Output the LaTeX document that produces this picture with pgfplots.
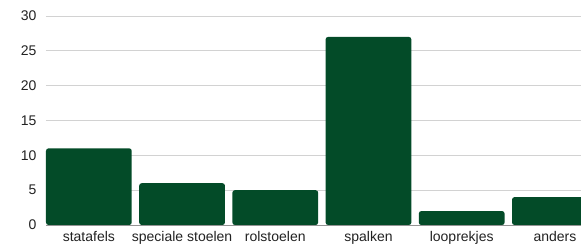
\documentclass[border=0pt]{standalone}
\usepackage{pgfplots}
\pgfplotsset{compat=1.18}
\usepackage{fontspec}
\setmainfont{Liberation Sans}
\definecolor{barg}{RGB}{3,75,40}
\definecolor{gridg}{RGB}{210,210,210}
\definecolor{txt}{RGB}{34,34,34}
\begin{document}
\begin{tikzpicture}[x=1pt,y=1pt]
\path[use as bounding box] (-46,-20) rectangle (535,225);
\begin{axis}[
  at={(0,0)}, anchor=south west,
  scale only axis, width=535pt, height=209pt,
  xmin=-0.46, xmax=5.28, ymin=0, ymax=30,
  ybar, bar width=0.92,
  xtick={0,1,2,3,4,5},
  xticklabels={statafels, speciale stoelen, rolstoelen, spalken, looprekjes, anders},
  ytick={0,5,10,15,20,25,30},
  ymajorgrids, grid style={gridg, line width=0.8pt},
  axis line style={draw=none},
  major tick length=0pt,
  tick label style={font=\fontsize{14}{16}\selectfont, text=txt},
  /pgf/number format/assume math mode=true,
  yticklabel style={xshift=-6pt},
  xticklabel style={yshift=-3pt},
  clip=true,
  extra y ticks={0}, extra y tick labels={},
  extra y tick style={grid style={gray!85, line width=0.9pt}},
]
\addplot[fill=barg, draw=none, rounded corners=2.5pt] coordinates {(0,11) (1,6) (2,5) (3,27) (4,2) (5,4)};
\end{axis}
\end{tikzpicture}
\end{document}
